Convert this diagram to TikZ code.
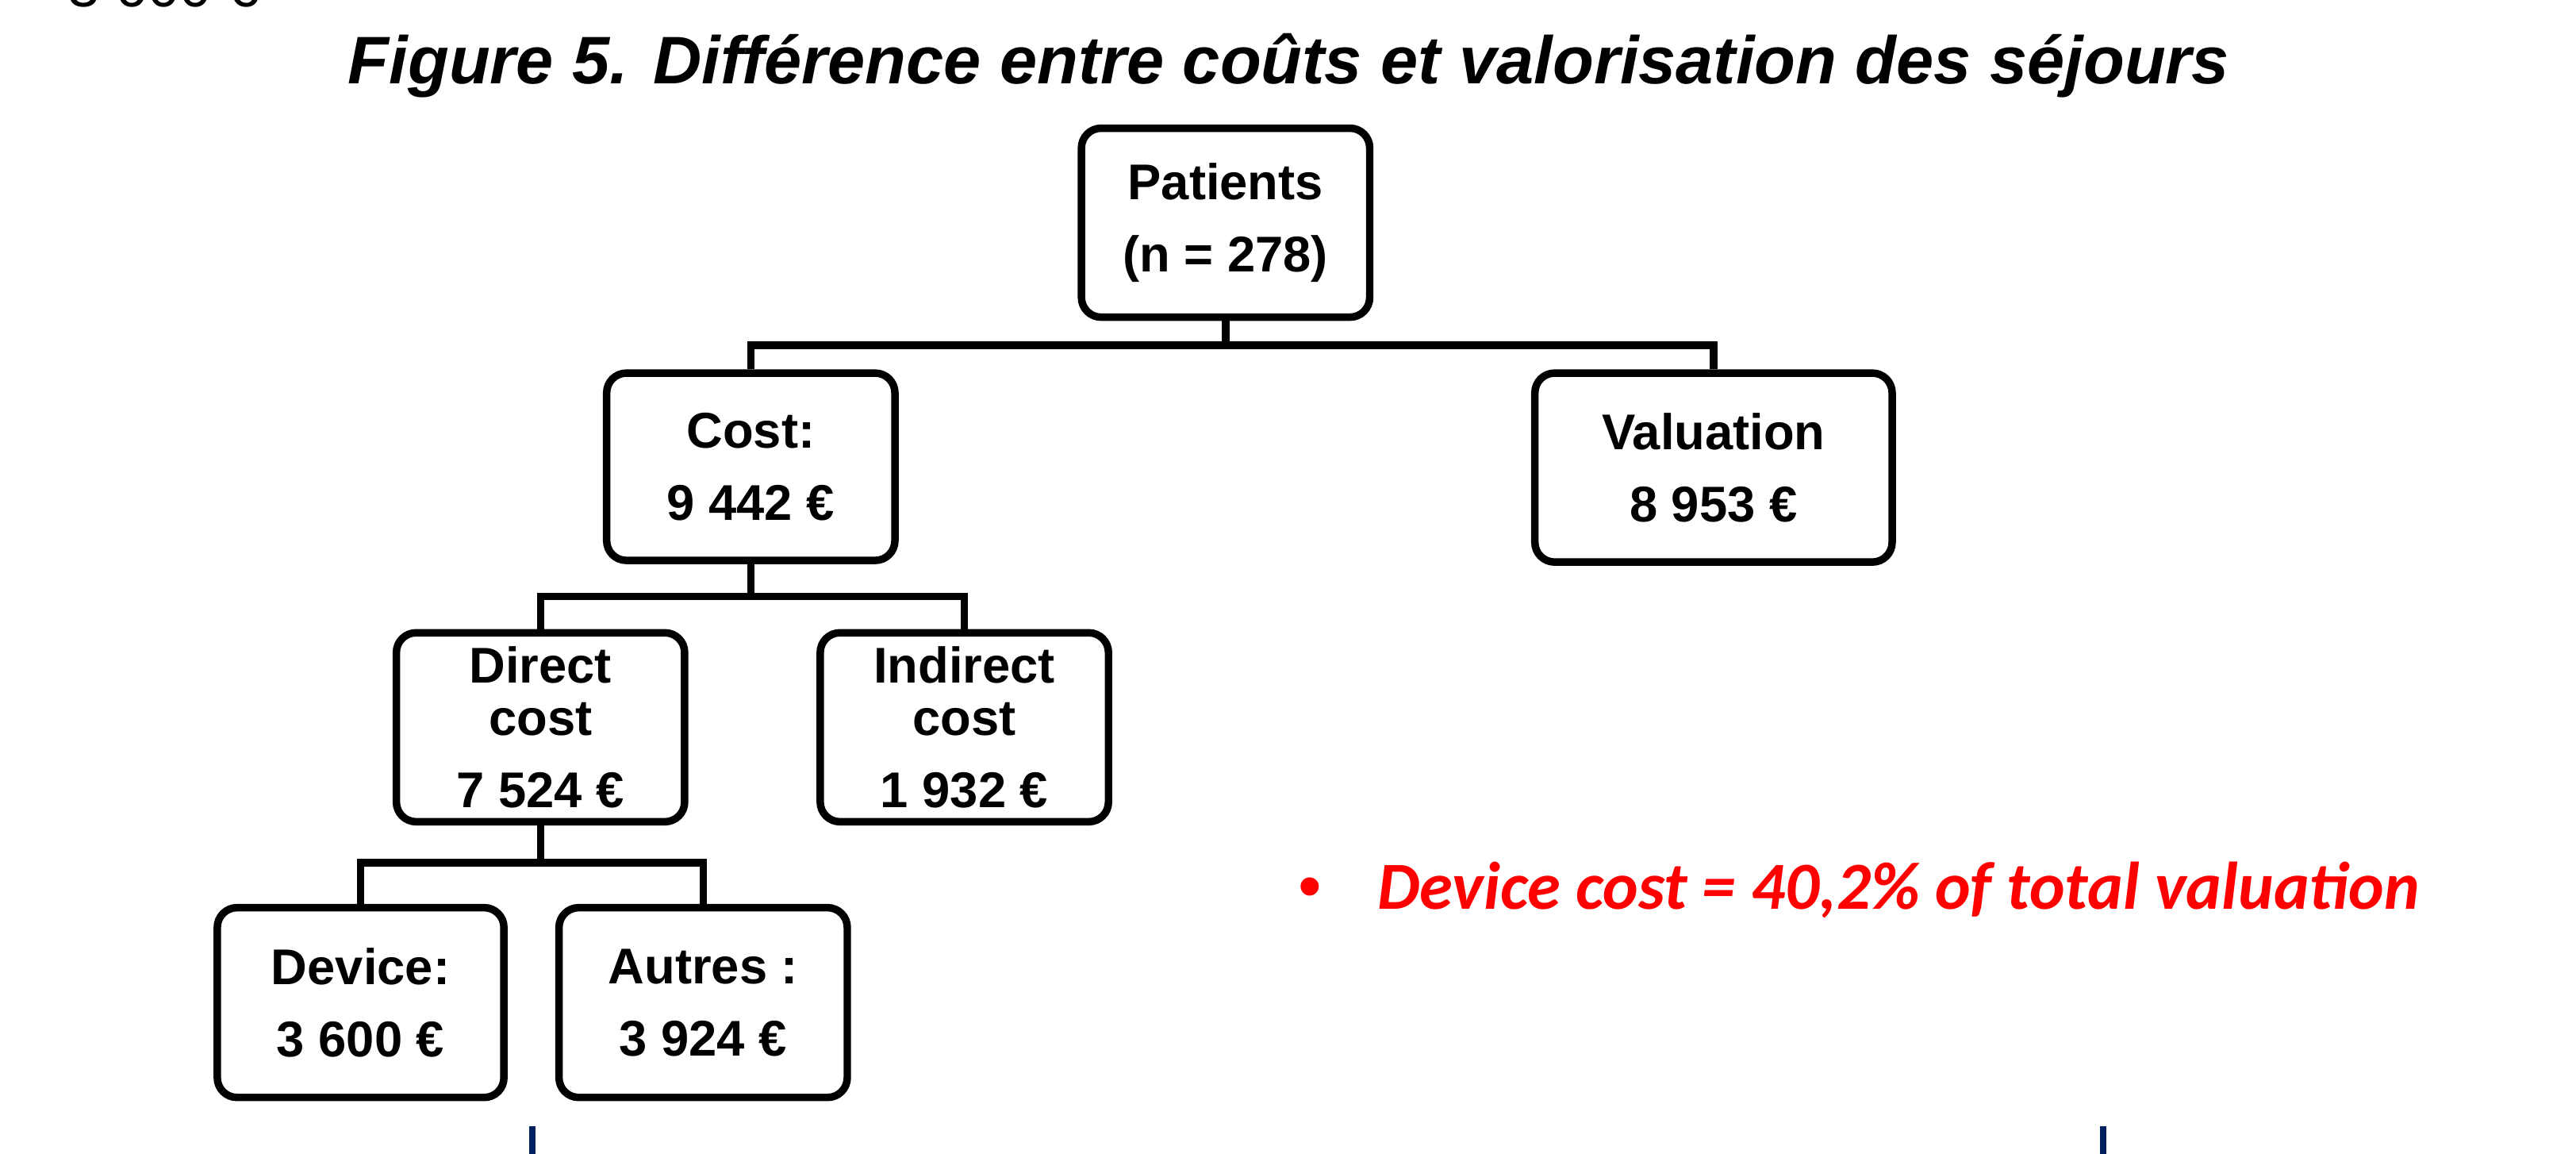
\documentclass[tikz,border=0pt]{standalone}
\usepackage{fontspec}
\setmainfont{Liberation Sans}
\newfontfamily\calib{Carlito}
\definecolor{navy}{RGB}{0,32,96}
\begin{document}
\begin{tikzpicture}[x=0.02cm,y=-0.02cm,
  box/.style={draw=black, line width=2.6pt, rounded corners=0.24cm, fill=white,
    align=center, inner sep=0pt, font=\fontsize{17.4}{25}\selectfont\bfseries},
  link/.style={line width=2.6pt, line join=miter},
  tick/.style={draw=navy, line width=0.078cm}]
\useasboundingbox (0,0) rectangle (1568,702);
\begin{scope}
\clip (0,0) rectangle (1568,702);
\node[anchor=base west, inner sep=0pt, font=\fontsize{19.9}{24}\selectfont] (prev) at (41,4) {3 600 €};
\end{scope}
\node[anchor=base, inner sep=0pt, font=\fontsize{23.3}{28}\selectfont\bfseries\itshape] (title) at (784.5,51)
  {Figure 5. Différence entre coûts et valorisation des séjours};

\node[box, minimum width=3.51cm, minimum height=2.3cm] (pat) at (746,135.5) {Patients\\(n = 278)};
\node[box, minimum width=3.51cm, minimum height=2.28cm] (cost) at (457,284) {Cost:\\9 442 €};
\node[box, minimum width=4.35cm, minimum height=2.3cm] (val) at (1043,284.5) {Valuation\\8 953 €};
\node[box, minimum width=3.51cm, minimum height=2.3cm] (direct) at (329,442.5) {Direct\\[-6.8pt]cost\\7 524 €};
\node[box, minimum width=3.51cm, minimum height=2.3cm] (indirect) at (587,442.5) {Indirect\\[-6.8pt]cost\\1 932 €};
\node[box, minimum width=3.49cm, minimum height=2.31cm] (device) at (219.5,610) {Device:\\3 600 €};
\node[box, minimum width=3.51cm, minimum height=2.31cm] (autres) at (428,610) {Autres :\\3 924 €};

\coordinate (j1) at (746,210);
\coordinate (j2) at (457,363);
\coordinate (j3) at (329,525);
\draw[link] (pat.south) -- (j1);
\draw[link] (cost.north) |- (j1) -| (val.north);
\draw[link] (cost.south) -- (j2);
\draw[link] (direct.north) |- (j2) -| (indirect.north);
\draw[link] (direct.south) -- (j3);
\draw[link] (device.north) |- (j3) -| (autres.north);

\node[anchor=base, inner sep=0pt, text=red, font=\fontsize{23.3}{28}\selectfont] (bullet) at (797.5,553) {•};
\node[anchor=base west, inner sep=0pt, text=red, font=\calib\fontsize{23.3}{28}\selectfont\bfseries\itshape] (note) at (838,553)
  {Device cost = 40,2\% of total valuation};

\coordinate (m1) at (324,685);
\coordinate (m1e) at (324,702);
\coordinate (m2) at (1280,685);
\coordinate (m2e) at (1280,702);
\draw[tick] (m1) -- (m1e);
\draw[tick] (m2) -- (m2e);
\end{tikzpicture}
\end{document}
